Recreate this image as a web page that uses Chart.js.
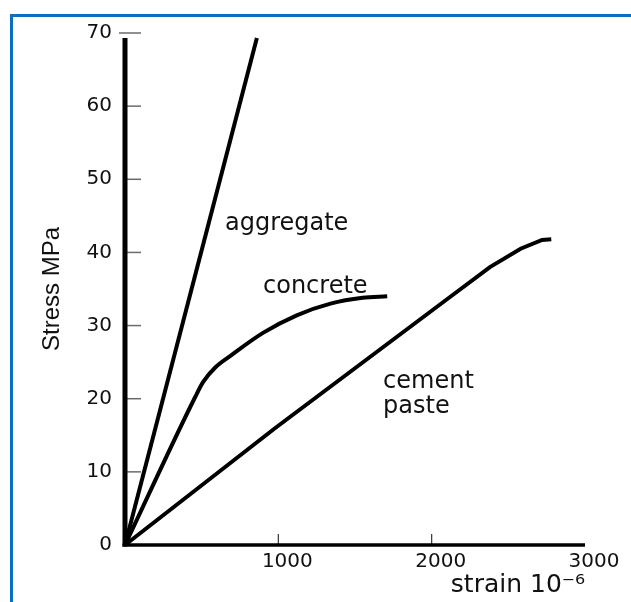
<!DOCTYPE html>
<html>
<head>
<meta charset="utf-8">
<title>Stress-strain curves</title>
<script src="https://cdn.jsdelivr.net/npm/chart.js@4.4.1/dist/chart.umd.min.js"></script>
<style>
  body { margin: 0; background: #fff; }
  #frame { position: absolute; left: 10px; top: 14px; right: 0; bottom: 0; border-left: 3px solid #0b6fc1; border-top: 3px solid #0b6fc1; }
  #chart { position: absolute; left: 0; top: 0; }
</style>
</head>
<body>
<div id="frame"></div>
<canvas id="chart" width="631" height="602"></canvas>
<script>
// strain in 10^-6, stress in MPa
const aggregateStrain = [0, 860];
const aggregateStress = [0, 69.3];

const concreteStrain = [0, 457, 510, 590, 690, 900, 1120, 1340, 1550, 1710];
const concreteStress = [0, 20.2, 22.3, 24.3, 25.9, 29.0, 31.4, 33.0, 33.8, 34.0];

const pasteStrain = [0, 980, 2100, 2380, 2580, 2720, 2780];
const pasteStress = [0, 16.0, 33.6, 38.0, 40.5, 41.7, 41.8];

const strainTicks = [0, 1000, 2000, 3000];
const stressTicks = [0, 10, 20, 30, 40, 50, 60, 70];

function toPoints(xs, ys) {
    return xs.map((v, i) => ({ x: v, y: ys[i] }));
}

// axes, inner tick marks and the curve names
const frame = {
    id: 'frame',
    afterDatasetsDraw(chart) {
        const { ctx, scales: { x, y } } = chart;
        const x0 = x.getPixelForValue(0);
        const y0 = y.getPixelForValue(0);
        const axisTop = 69.3;
        ctx.save();

        ctx.strokeStyle = '#6b6b6b';
        ctx.lineWidth = 1.5;
        stressTicks.forEach(v => {
            if (v === 0) return;
            const py = y.getPixelForValue(v);
            ctx.beginPath();
            ctx.moveTo(v > axisTop ? x0 - 6 : x0, py);
            ctx.lineTo(x0 + 16, py);
            ctx.stroke();
        });
        ctx.strokeStyle = '#333';
        ctx.lineWidth = 1.2;
        strainTicks.forEach(v => {
            if (v === 0 || v === 3000) return;
            const px = x.getPixelForValue(v);
            ctx.beginPath();
            ctx.moveTo(px, y0);
            ctx.lineTo(px, y0 - 11);
            ctx.stroke();
        });

        ctx.strokeStyle = '#000';
        ctx.lineWidth = 5;
        ctx.beginPath();
        ctx.moveTo(x0, y0 + 1.5);
        ctx.lineTo(x0, y.getPixelForValue(axisTop));
        ctx.stroke();
        ctx.lineWidth = 3.5;
        ctx.beginPath();
        ctx.moveTo(x0 - 2.5, y0);
        ctx.lineTo(x.getPixelForValue(3000), y0);
        ctx.stroke();

        ctx.fillStyle = '#111';
        ctx.font = '24px "DejaVu Sans"';
        ctx.textAlign = 'left';
        ctx.textBaseline = 'alphabetic';
        [['aggregate', 652, 43.0], ['concrete', 900, 34.45], ['cement', 1683, 21.5], ['paste', 1683, 18.05]]
            .forEach(([t, sx, sy]) => ctx.fillText(t, x.getPixelForValue(sx), y.getPixelForValue(sy)));
        ctx.restore();
    }
};

const line = { borderColor: '#000', borderWidth: 4, pointRadius: 0, fill: false, clip: false };

new Chart(document.getElementById('chart'), {
    type: 'line',
    data: {
        datasets: [
            { ...line, label: 'aggregate', data: toPoints(aggregateStrain, aggregateStress) },
            { ...line, label: 'concrete', data: toPoints(concreteStrain, concreteStress), cubicInterpolationMode: 'monotone' },
            { ...line, label: 'cement paste', data: toPoints(pasteStrain, pasteStress) }
        ]
    },
    options: {
        responsive: false,
        animation: false,
        layout: { padding: { left: 0, top: 33, right: 46, bottom: 0 } },
        plugins: { legend: { display: false }, tooltip: { enabled: false } },
        scales: {
            x: {
                type: 'linear',
                min: 0,
                max: 3000,
                afterBuildTicks: s => { s.ticks = strainTicks.map(v => ({ value: v })); },
                afterFit: s => { s.height = 57; },
                grid: { display: false, drawTicks: false },
                border: { display: false },
                ticks: {
                    color: '#111',
                    font: { family: 'DejaVu Sans', size: 20 },
                    padding: 5,
                    labelOffset: 9,
                    maxRotation: 0,
                    callback: v => (v === 0 ? '' : v)
                },
                title: {
                    display: true,
                    text: 'strain 10⁻⁶',
                    align: 'end',
                    color: '#111',
                    font: { family: 'DejaVu Sans', size: 25 },
                    padding: { top: 0, bottom: 2 }
                }
            },
            y: {
                min: 0,
                max: 70,
                afterBuildTicks: s => { s.ticks = stressTicks.map(v => ({ value: v })); },
                afterFit: s => { s.width = 125; },
                grid: { display: false, drawTicks: false },
                border: { display: false },
                ticks: {
                    color: '#111',
                    font: { family: 'DejaVu Sans', size: 20 },
                    padding: 13
                },
                title: {
                    display: true,
                    text: 'Stress MPa',
                    color: '#111',
                    font: { family: 'Liberation Sans', size: 24 },
                    padding: { top: 38, bottom: 0 }
                }
            }
        }
    },
    plugins: [frame]
});
</script>
</body>
</html>
